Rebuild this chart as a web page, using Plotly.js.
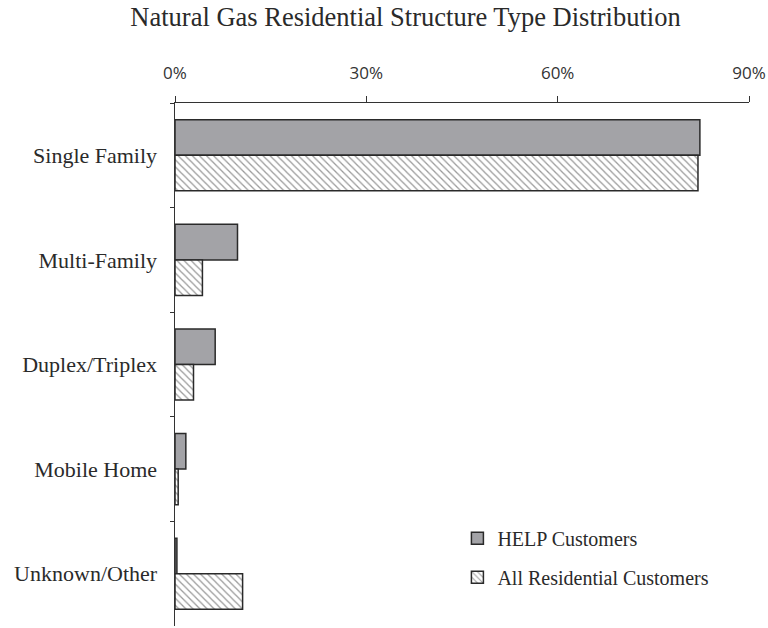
<!DOCTYPE html>
<html><head><meta charset="utf-8">
<script src="https://cdn.plot.ly/plotly-3.0.1.min.js"></script>
<style>body{margin:0;background:#fff}#c{width:768px;height:628px}</style>
</head><body><div id="c"></div>
<script>
const categories = ["Single Family", "Multi-Family", "Duplex/Triplex", "Mobile Home", "Unknown/Other"];
const helpCustomers = [82.3, 9.8, 6.3, 1.7, 0.3];
const allResidential = [82.0, 4.3, 2.9, 0.5, 10.6];
const seriesNames = ["HELP Customers", "All Residential Customers"];
const xTickVals = [0, 30, 60, 90];
const xTickText = ["0%", "30%", "60%", "90%"];

const font = {family: "Liberation Serif, Times New Roman, serif", color: "#2a2a2a"};
const traces = [
  {type: "bar", orientation: "h", name: seriesNames[0], y: categories, x: helpCustomers,
   legendgroup: "a",
   marker: {color: "#a3a3a7", line: {color: "#2a2a2a", width: 1.5}}},
  {type: "bar", orientation: "h", name: seriesNames[1], y: categories, x: allResidential,
   legendgroup: "b",
   marker: {color: "#ffffff", line: {color: "#2a2a2a", width: 1.5},
            pattern: {shape: "\\", fgcolor: "#9a9a9a", bgcolor: "#ffffff", size: 5, solidity: 0.25}}}
];
const layout = {
  width: 768, height: 628,
  margin: {l: 175, r: 19, t: 103, b: 2},
  paper_bgcolor: "#fff", plot_bgcolor: "#fff",
  font: Object.assign({size: 20}, font),
  title: {text: "Natural Gas Residential Structure Type Distribution", x: 0.528, xanchor: "center", y: 0.973, yanchor: "middle",
          font: Object.assign({size: 26.5}, font)},
  barmode: "group", bargap: 0.32, bargroupgap: 0,
  showlegend: true,
  legend: {x: 0.492, xanchor: "left", y: 0.205, yanchor: "top", tracegroupgap: 10,
           font: Object.assign({size: 20}, font), bgcolor: "rgba(0,0,0,0)", traceorder: "grouped"},
  xaxis: {side: "top", range: [0, 90], tickvals: xTickVals, ticktext: xTickText,
          showgrid: false, zeroline: false, showline: true, linecolor: "#333", linewidth: 1.5,
          ticks: "outside", ticklen: 6, tickcolor: "#333", ticklabelstandoff: 10,
          tickfont: {family: "Open Sans, DejaVu Sans, sans-serif", size: 17, color: "#333"},
          fixedrange: true},
  yaxis: {autorange: false, range: [4.5, -0.5], type: "category",
          showgrid: false, zeroline: false, showline: true, linecolor: "#333", linewidth: 1.5,
          ticks: "outside", tickson: "boundaries", ticklen: 4, tickcolor: "#333",
          tickfont: Object.assign({size: 22}, font), ticklabelstandoff: 12}
};
Plotly.newPlot("c", traces, layout, {staticPlot: true});
</script></body></html>
